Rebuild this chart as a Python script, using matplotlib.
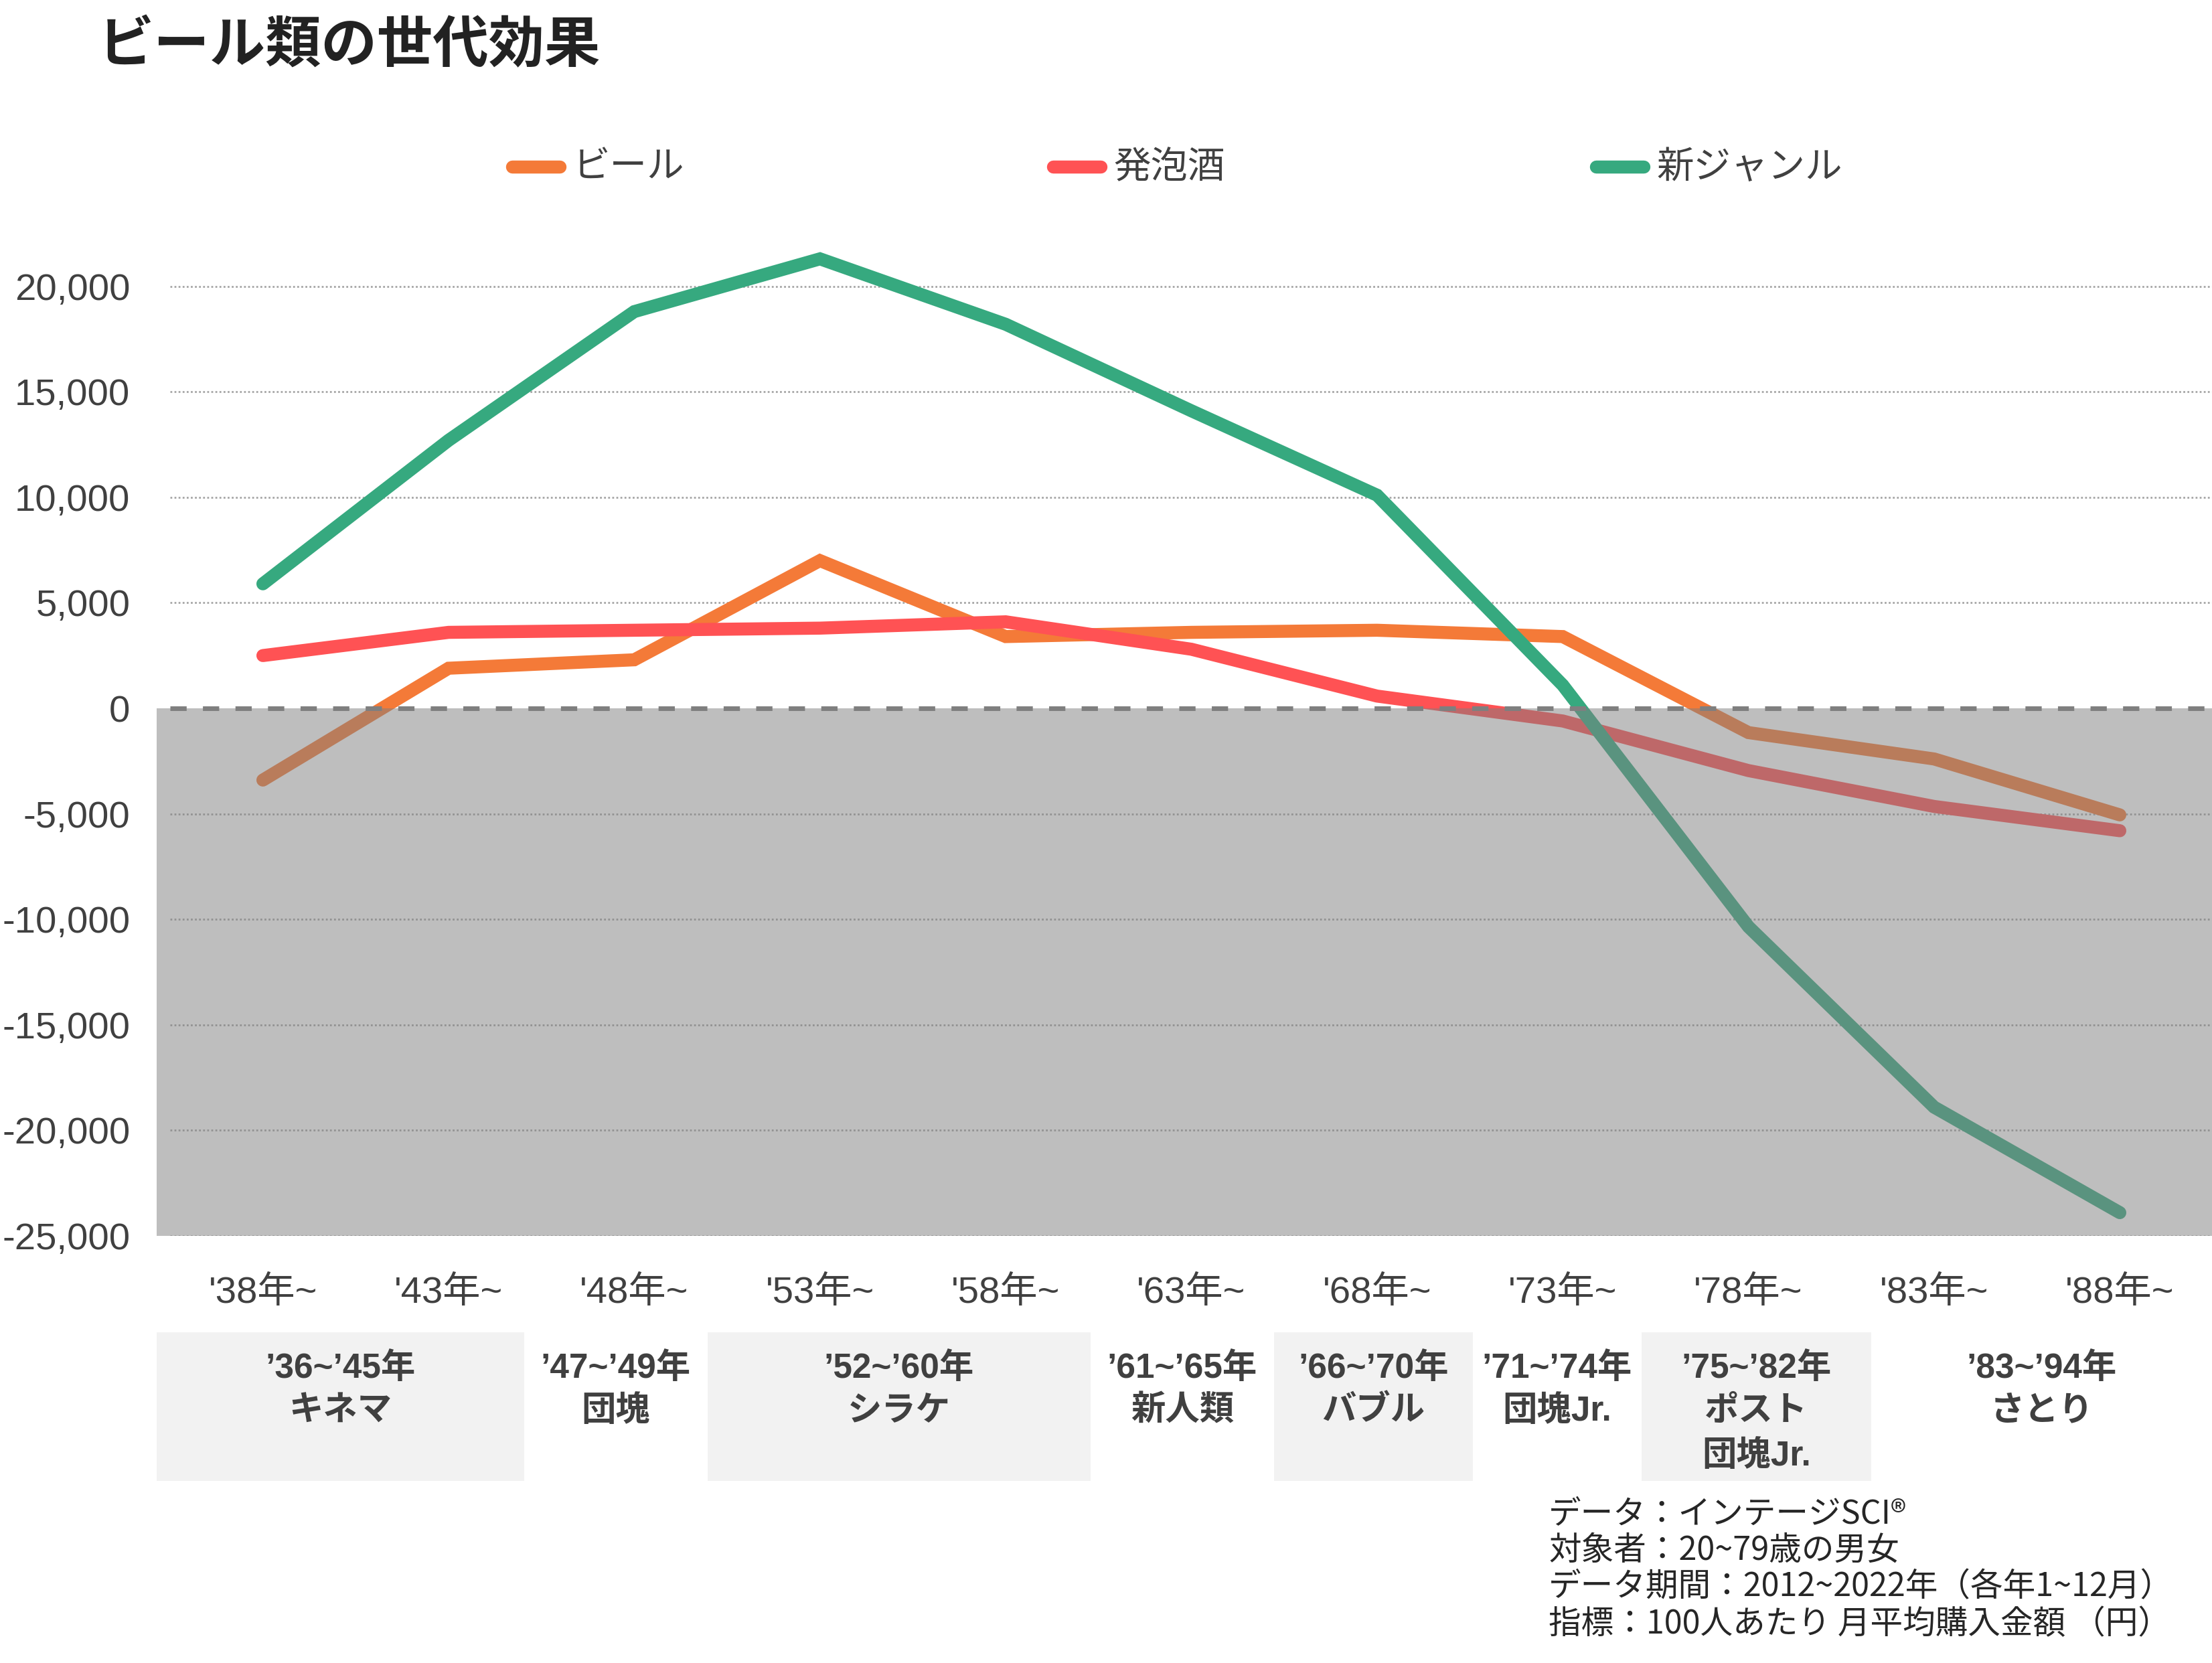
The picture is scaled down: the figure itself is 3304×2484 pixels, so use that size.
import numpy as np
import matplotlib.pyplot as plt
from matplotlib.lines import Line2D
from matplotlib.patches import Rectangle
from matplotlib.ticker import FuncFormatter
import matplotlib.transforms as mtransforms

plt.rcParams['font.family'] = ['Liberation Sans', 'Noto Sans CJK JP']

# cohort (birth year) categories on the x axis
cohorts = ["'38年~", "'43年~", "'48年~", "'53年~", "'58年~", "'63年~",
           "'68年~", "'73年~", "'78年~", "'83年~", "'88年~"]

# generation effect: 100人あたり 月平均購入金額 (円)
beer = [-3400, 1900, 2300, 7000, 3400, 3600, 3700, 3400, -1150, -2400, -5050]
happoshu = [2500, 3600, 3700, 3800, 4100, 2800, 580, -600, -2950, -4650, -5800]
new_genre = [5900, 12700, 18800, 21300, 18200, 14100, 10100, 1100, -10350, -18900, -23900]

series_names = ['ビール', '発泡酒', '新ジャンル']
series_colors = ['#F47A38', '#FF5254', '#36A97F']

y_ticks = [20000, 15000, 10000, 5000, 0, -5000, -10000, -15000, -20000, -25000]

# generation bands under the x axis
gen_years = ['’36~’45年', '’47~’49年', '’52~’60年', '’61~’65年',
             '’66~’70年', '’71~’74年', '’75~’82年', '’83~’94年']
gen_names = ['キネマ', '団塊', 'シラケ', '新人類', 'バブル', '団塊Jr.', 'ポスト\n団塊Jr.', 'さとり']
gen_edges = [-0.572, 1.407, 2.395, 4.457, 5.445, 6.516, 7.424, 8.661, 10.5]

notes = ['データ：インテージSCI®',
         '対象者：20~79歳の男女',
         'データ期間：2012~2022年（各年1~12月）',
         '指標：100人あたり 月平均購入金額 （円）']

fig = plt.figure(figsize=(33.05, 24.84), dpi=100)
ax = fig.add_axes([0.07685, 0.25684, 0.92315, 0.63446])

x = np.arange(len(cohorts))
for vals, name, color in zip([beer, happoshu, new_genre], series_names, series_colors):
    ax.plot(x, vals, color=color, lw=14, solid_capstyle='round',
            solid_joinstyle='miter', zorder=2, label=name)

# negative zone: translucent gray laid over the lines
ax.add_patch(Rectangle((gen_edges[0], -25000), gen_edges[-1] - gen_edges[0], 25000,
                       facecolor='#7F7F7F', alpha=0.5, lw=0, zorder=3, clip_on=False))
ax.axhline(0, color='#7F7F7F', lw=5, dashes=(3.5, 3.5), zorder=4)

for yv in y_ticks:
    if yv != 0:
        ax.axhline(yv, color='#A6A6A6', lw=2, ls=(0, (1, 1.2)), zorder=1)

ax.set_xlim(-0.5, 10.5)
ax.set_ylim(-25000, 25000)
ax.set_yticks(y_ticks)
ax.yaxis.set_major_formatter(FuncFormatter(lambda v, p: f'{v:,.0f}'))
ax.set_xticks(x, cohorts)
ax.tick_params(axis='y', length=0, labelsize=40.5, colors='#404040', pad=43)
ax.tick_params(axis='x', length=0, labelsize=40.5, colors='#404040', pad=43)
for s in ax.spines.values():
    s.set_visible(False)

# generation boxes
trans = mtransforms.blended_transform_factory(ax.transData, fig.transFigure)
for i, (yr, nm) in enumerate(zip(gen_years, gen_names)):
    x0, x1 = gen_edges[i], gen_edges[i + 1]
    if i % 2 == 0:
        fig.add_artist(Rectangle((x0, 0.1095), x1 - x0, 0.0894, transform=trans,
                                 facecolor='#F2F2F2', lw=0))
    cx = (x0 + x1) / 2
    lines = [yr] + nm.split('\n')
    for txt, yy in zip(lines, [0.1770, 0.1513, 0.1243]):
        fig.text(cx, yy, txt, transform=trans, ha='center', va='center',
                 fontsize=37, fontweight='bold', color='#404040')

# legend
leg_x = [0.2275, 0.4720, 0.7174]
for lx, name, color in zip(leg_x, series_names, series_colors):
    fig.add_artist(Line2D([lx + 0.004, lx + 0.0253], [0.8998, 0.8998], color=color,
                          lw=14, solid_capstyle='round', transform=fig.transFigure))
    fig.text(lx + 0.0313, 0.8985, name, ha='left', va='center', fontsize=40,
             color='#404040')

fig.text(0.0445, 0.9725, 'ビール類の世代効果', ha='left', va='center', fontsize=60,
         fontweight='bold', color='#222222', family='Noto Sans CJK JP')

for txt, yy in zip(notes, [0.0896, 0.0676, 0.0455, 0.0234]):
    fig.text(0.6999, yy, txt, ha='left', va='center', fontsize=35, color='#262626',
             family='Noto Sans CJK JP')

fig.savefig('out.png', dpi=100)
